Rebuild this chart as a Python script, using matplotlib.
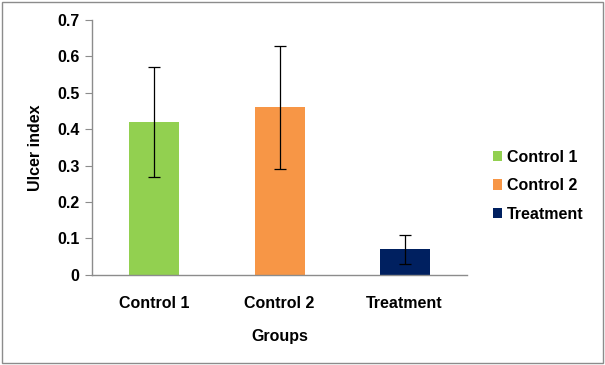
import matplotlib.pyplot as plt
from matplotlib.patches import Rectangle

groups = ['Control 1', 'Control 2', 'Treatment']
ulcer_index = [0.42, 0.46, 0.07]
errors = [0.15, 0.17, 0.04]
colors = ['#92D050', '#F79646', '#002060']

plt.rcParams['font.family'] = ['Liberation Sans', 'DejaVu Sans']
plt.rcParams['font.weight'] = 'bold'

fig = plt.figure(figsize=(6.05, 3.65), dpi=100)
ax = fig.add_axes([0.152, 0.247, 0.62, 0.698])

x = range(len(groups))
bars = ax.bar(x, ulcer_index, width=0.4, color=colors, label=groups, zorder=2)
ax.errorbar(x, ulcer_index, yerr=errors, fmt='none', ecolor='black',
            elinewidth=0.9, capsize=4, capthick=0.9, zorder=3)

ax.set_xlim(-0.5, 2.5)
ax.set_ylim(0, 0.7)
ax.set_yticks([0, 0.1, 0.2, 0.3, 0.4, 0.5, 0.6, 0.7])
ax.set_yticklabels(['0', '0.1', '0.2', '0.3', '0.4', '0.5', '0.6', '0.7'])
ax.set_xticks(list(x))
ax.set_xticklabels(groups)

for s in ['top', 'right']:
    ax.spines[s].set_visible(False)
for s in ['left', 'bottom']:
    ax.spines[s].set_color('#8c8c8c')
    ax.spines[s].set_linewidth(1)
ax.tick_params(axis='y', length=5, color='#8c8c8c', labelsize=11.5, pad=4)
ax.tick_params(axis='x', length=0, labelsize=11.5, pad=15)

ax.set_xlabel('Groups', fontsize=11.5, fontweight='bold', labelpad=13)
ax.set_ylabel('Ulcer index', fontsize=11.5, fontweight='bold', labelpad=10)

ax.legend(handles=bars, labels=groups, loc='center left', bbox_to_anchor=(1.03, 0.35),
          frameon=False, fontsize=11.5, handlelength=0.6, handleheight=0.6,
          handletextpad=0.3, labelspacing=0.85)

fig.patches.append(Rectangle((0.003, 0.005), 0.994, 0.99, transform=fig.transFigure,
                             fill=False, edgecolor='#8c8c8c', linewidth=1))

fig.savefig('out.png', dpi=100)
